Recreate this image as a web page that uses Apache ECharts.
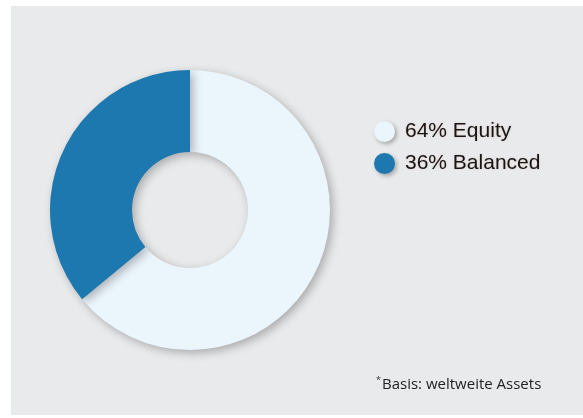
<!DOCTYPE html>
<html>
<head>
<meta charset="utf-8">
<style>
html,body{margin:0;padding:0;background:#ffffff;}
#chart{width:583px;height:418px;}
</style>
<script src="https://cdn.jsdelivr.net/npm/echarts@6/dist/echarts.min.js"></script>
</head>
<body>
<div id="chart"></div>
<script>
const categories = ['Equity', 'Balanced'];
const values = [64, 36];
const colors = ['#EBF5FC', '#1C78AE'];
const footnote = 'Basis: weltweite Assets';

const chart = echarts.init(document.getElementById('chart'), null, {renderer: 'canvas'});
const data = categories.map((c, i) => ({name: c, value: values[i], itemStyle: {color: colors[i]}}));
const valueOf = {};
categories.forEach((c, i) => valueOf[c] = values[i]);

chart.setOption({
  backgroundColor: '#ffffff',
  animation: false,
  graphic: [{
    type: 'rect', z: -10, silent: true,
    shape: {x: 11, y: 6, width: 572, height: 409},
    style: {fill: '#E9EAEC'}
  }],
  title: {
    left: 371, top: 371,
    text: '{s|*}{m|' + footnote + '}',
    textStyle: {
      fontWeight: 'normal',
      rich: {
        s: {fontSize: 9, color: '#333', fontWeight: 'normal', verticalAlign: 'top', padding: [0, 1, 8, 0], fontFamily: 'Open Sans'},
        m: {fontSize: 15, color: '#222222', fontWeight: 'normal', fontFamily: 'Open Sans'}
      }
    }
  },
  legend: {
    orient: 'vertical',
    left: 369, top: 116,
    icon: 'circle',
    itemWidth: 23, itemHeight: 21,
    itemGap: 11,
    formatter: name => valueOf[name] + '% ' + name,
    textStyle: {fontSize: 21, color: '#161616', fontFamily: 'Liberation Sans', padding: [0, 0, 0, 4],
      textShadowColor: 'rgba(200,120,100,0.35)', textShadowBlur: 2},
    itemStyle: {shadowColor: 'rgba(0,0,0,0.3)', shadowBlur: 4, shadowOffsetX: 2, shadowOffsetY: 2}
  },
  series: [{
    type: 'pie',
    center: [190, 210],
    radius: [58, 140],
    startAngle: 90,
    clockwise: true,
    label: {show: false},
    labelLine: {show: false},
    emphasis: {disabled: true},
    itemStyle: {shadowColor: 'rgba(0,0,0,0.28)', shadowBlur: 10, shadowOffsetX: 3, shadowOffsetY: 3},
    data: data
  }]
});
</script>
</body>
</html>
